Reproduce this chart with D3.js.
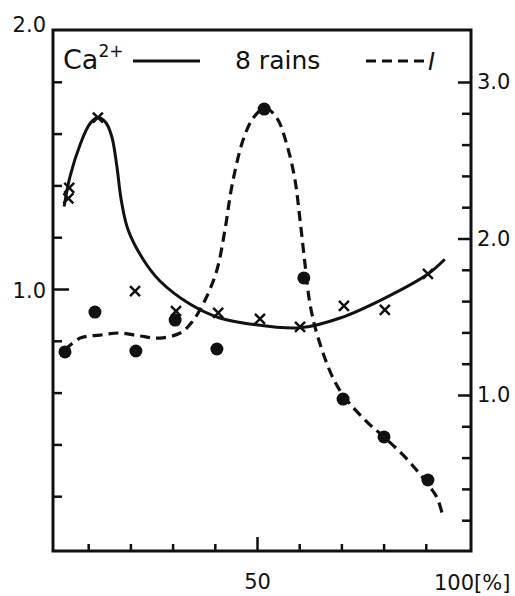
<!DOCTYPE html>
<html>
<head>
<meta charset="utf-8">
<script src="https://cdn.jsdelivr.net/npm/d3@7"></script>
<style>
  body { margin: 0; background: #fff; }
  svg text { font-family: "DejaVu Sans", sans-serif; fill: #111; }
</style>
</head>
<body>
<div id="container"></div>
<script>
// crosses: Ca2+, 8 rains (left axis)
const crossX = [5.5, 5.3, 12.3, 21.1, 30.8, 40.8, 50.7, 60.2, 70.6, 80.3, 90.5];
const crossY = [1.39, 1.35, 1.662, 0.992, 0.915, 0.908, 0.885, 0.854, 0.935, 0.919, 1.058];
// solid curve drawn through the 8 rains data
const solidX = [4.3, 5.7, 8.1, 10.4, 12.3, 14.2, 15.6, 16.8, 17.8, 19.4, 23.0, 27.0, 34.1, 41.2, 48.3, 60.2, 69.7, 80.3, 90.5, 94.5];
const solidY = [1.319, 1.435, 1.558, 1.638, 1.662, 1.642, 1.588, 1.473, 1.346, 1.231, 1.115, 1.031, 0.942, 0.888, 0.865, 0.850, 0.888, 0.965, 1.058, 1.115];
// dots: single rain I (right axis)
const dotX = [4.5, 11.6, 21.3, 30.6, 40.5, 51.7, 61.1, 70.4, 80.1, 90.5];
const dotY = [1.275, 1.530, 1.281, 1.479, 1.294, 2.827, 1.748, 0.974, 0.732, 0.457];
// dashed curve for rain I
const dashX = [4.5, 8.1, 12.8, 17.5, 22.3, 27.0, 31.8, 34.6, 37.7, 40.5, 42.4, 44.1, 46.7, 49.1, 51.9, 54.7, 57.1, 59.0, 60.2, 61.4, 62.6, 64.5, 68.0, 70.9, 76.1, 80.1, 84.6, 88.2, 91.0, 92.7, 94.1];
const dashY = [1.288, 1.364, 1.383, 1.396, 1.377, 1.364, 1.396, 1.466, 1.607, 1.799, 2.054, 2.342, 2.629, 2.770, 2.834, 2.770, 2.597, 2.374, 2.118, 1.831, 1.575, 1.364, 1.109, 0.981, 0.827, 0.732, 0.617, 0.508, 0.412, 0.342, 0.220];

const leftMinor = [0.2, 0.4, 0.6, 0.8, 1.2, 1.4, 1.6, 1.8];
const leftMajor = [1.0];
const leftLabels = [1.0, 2.0];
const rightMinor = [0.2, 0.4, 0.6, 0.8, 1.2, 1.4, 1.6, 1.8, 2.2, 2.4, 2.6, 2.8];
const rightMajor = [1.0, 2.0, 3.0];
const xMinor = [10, 20, 30, 40, 60, 70, 80, 90];
const xMajor = [50];

const width = 515, height = 596;
const frame = { left: 53, right: 471, top: 30, bottom: 551 };

const x = d3.scaleLinear().domain([0, 100]).range([46, 468]);
const yL = d3.scaleLinear().domain([0, 2]).range([548, 30]);
const yR = d3.scaleLinear().domain([0, 3]).range([551.5, 82]);

const svg = d3.select("#container").append("svg")
  .attr("width", width)
  .attr("height", height);

// frame
svg.append("rect")
  .attr("x", frame.left)
  .attr("y", frame.top)
  .attr("width", frame.right - frame.left)
  .attr("height", frame.bottom - frame.top)
  .attr("fill", "none")
  .attr("stroke", "#111")
  .attr("stroke-width", 3);

function styleAxis(g) {
  g.select(".domain").remove();
  g.selectAll("line").attr("stroke", "#111").attr("stroke-width", 2.5);
  g.selectAll("text").attr("font-size", 21).attr("fill", "#111");
}

// left axis
svg.append("g").attr("transform", `translate(${frame.left},0)`)
  .call(d3.axisLeft(yL).tickValues(leftMinor).tickSizeInner(-9).tickFormat(""))
  .call(styleAxis);
svg.append("g").attr("transform", `translate(${frame.left},0)`)
  .call(d3.axisLeft(yL).tickValues(leftMajor).tickSizeInner(-16).tickFormat(""))
  .call(styleAxis);
svg.append("g").attr("transform", `translate(${frame.left},0)`)
  .call(d3.axisLeft(yL).tickValues(leftLabels).tickSize(0).tickPadding(7).tickFormat(d3.format(".1f")))
  .call(styleAxis)
  .selectAll("text").attr("dy", (d) => d === 2 ? "0.05em" : "0.4em");

// right axis
svg.append("g").attr("transform", `translate(${frame.right},0)`)
  .call(d3.axisRight(yR).tickValues(rightMinor).tickSizeInner(-9).tickFormat(""))
  .call(styleAxis);
svg.append("g").attr("transform", `translate(${frame.right},0)`)
  .call(d3.axisRight(yR).tickValues(rightMajor).tickSizeInner(-13).tickFormat(d3.format(".1f")))
  .call(styleAxis)
  .selectAll("text").attr("x", 6);

// bottom axis
svg.append("g").attr("transform", `translate(0,${frame.bottom})`)
  .call(d3.axisBottom(x).tickValues(xMinor).tickSizeInner(-7).tickFormat(""))
  .call(styleAxis);
svg.append("g").attr("transform", `translate(0,${frame.bottom})`)
  .call(d3.axisBottom(x).tickValues(xMajor).tickSizeInner(-14).tickFormat(d3.format("d")))
  .call(styleAxis)
  .selectAll("text").attr("y", 23);

svg.append("text")
  .attr("x", x(100) - 34)
  .attr("y", 590)
  .attr("font-size", 21)
  .text("100[%]");

// curves
const solidLine = d3.line()
  .x((d, i) => x(solidX[i]))
  .y((d, i) => yL(solidY[i]))
  .curve(d3.curveCatmullRom.alpha(0.5));

svg.append("path")
  .datum(solidX)
  .attr("d", solidLine)
  .attr("fill", "none")
  .attr("stroke", "#111")
  .attr("stroke-width", 3);

const dashLine = d3.line()
  .x((d, i) => x(dashX[i]))
  .y((d, i) => yR(dashY[i]))
  .curve(d3.curveCatmullRom.alpha(0.5));

svg.append("path")
  .datum(dashX)
  .attr("d", dashLine)
  .attr("fill", "none")
  .attr("stroke", "#111")
  .attr("stroke-width", 3.2)
  .attr("stroke-dasharray", "10,6");

// markers
dotX.forEach((v, i) => {
  svg.append("circle")
    .attr("cx", x(v))
    .attr("cy", yR(dotY[i]))
    .attr("r", 6.5)
    .attr("fill", "#111");
});

const cs = 5;
crossX.forEach((v, i) => {
  const cx = x(v), cy = yL(crossY[i]);
  svg.append("path")
    .attr("d", `M${cx - cs},${cy - cs}L${cx + cs},${cy + cs}M${cx - cs},${cy + cs}L${cx + cs},${cy - cs}`)
    .attr("stroke", "#111")
    .attr("stroke-width", 2.5);
});

// legend
const ca = svg.append("text").attr("x", 63).attr("y", 69).attr("font-size", 27);
ca.append("tspan").text("Ca");
ca.append("tspan").attr("font-size", 17).attr("dy", -12).text("2+");

svg.append("line")
  .attr("x1", 133).attr("x2", 200)
  .attr("y1", 61).attr("y2", 61)
  .attr("stroke", "#111").attr("stroke-width", 3);

svg.append("text").attr("x", 235).attr("y", 69).attr("font-size", 25).text("8 rains");

svg.append("line")
  .attr("x1", 366).attr("x2", 426)
  .attr("y1", 61).attr("y2", 61)
  .attr("stroke", "#111").attr("stroke-width", 3)
  .attr("stroke-dasharray", "10,6");

svg.append("text").attr("x", 428).attr("y", 70).attr("font-size", 24)
  .attr("font-style", "italic").text("I");
</script>
</body>
</html>
